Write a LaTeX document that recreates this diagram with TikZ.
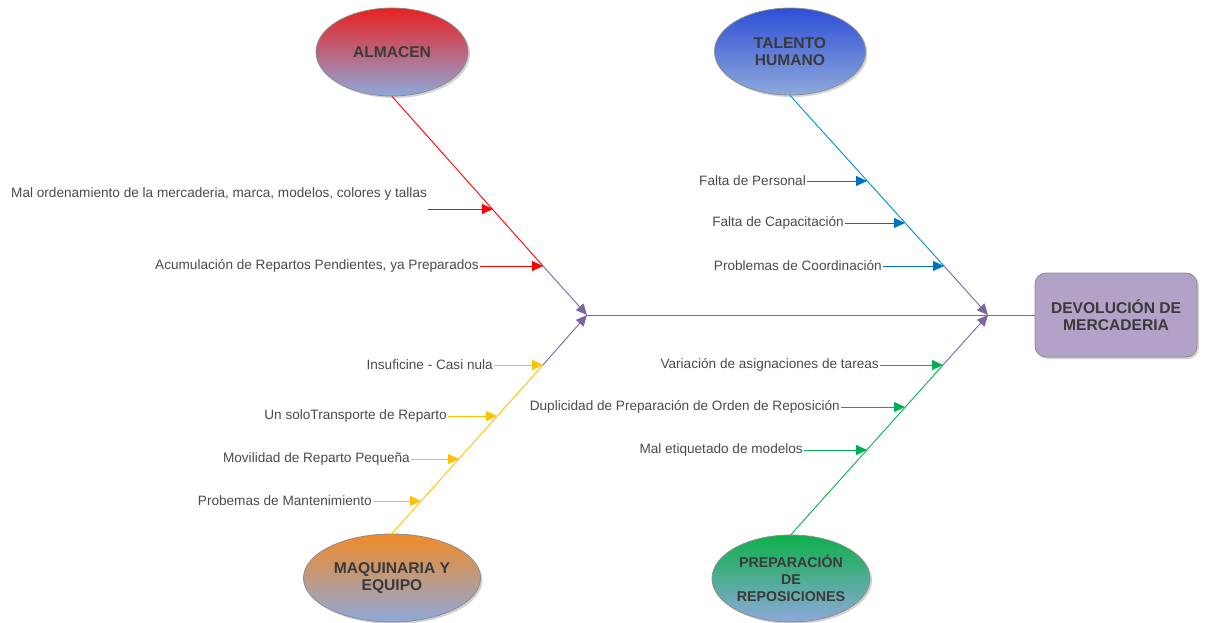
\documentclass[tikz,border=0pt]{standalone}
\usepackage{fontspec}
\setmainfont{Liberation Sans}
\usetikzlibrary{arrows.meta,shapes.geometric,shadows}
\definecolor{labeltxt}{HTML}{4A4A4A}
\definecolor{titletxt}{HTML}{3A3A3A}
\definecolor{causebot}{HTML}{8EA9DB}
\definecolor{almtop}{HTML}{E82020}
\definecolor{taltop}{HTML}{2E4FD6}
\definecolor{maqtop}{HTML}{F08A28}
\definecolor{preptop}{HTML}{0DB04B}
\definecolor{effectfill}{HTML}{B3A2C7}
\definecolor{bonered}{HTML}{FF0000}
\definecolor{boneblue}{HTML}{0070C0}
\definecolor{boneyellow}{HTML}{FFC000}
\definecolor{bonegreen}{HTML}{00B050}
\definecolor{bonepurple}{HTML}{8064A2}
\tikzset{
  cause/.style={ellipse, draw=black!45, line width=0.8pt,
    minimum width=152pt, minimum height=88pt, inner sep=0pt,
    bottom color=causebot, align=center, text=titletxt,
    font=\bfseries\fontsize{15.6}{17.5}\selectfont,
    drop shadow={opacity=0.35, shadow xshift=2pt, shadow yshift=-2pt}},
  effect/.style={rectangle, rounded corners=11pt, draw=black!45, line width=0.8pt,
    fill=effectfill, minimum width=162pt, minimum height=84pt, align=center,
    text=titletxt, font=\bfseries\fontsize{15.6}{17.5}\selectfont,
    drop shadow={opacity=0.35, shadow xshift=2pt, shadow yshift=-2pt}},
  lbl/.style={text=labeltxt, font=\fontsize{13.6}{15}\selectfont, inner sep=1pt},
  tip/.style={-{Triangle[length=11pt,width=10pt]}},
  bone/.style={line width=0.9pt},
  subcause/.style={line width=0.9pt, tip},
}
\begin{document}
\begin{tikzpicture}[x=1pt,y=-1pt]
\useasboundingbox (0,0) rectangle (1207,623);

% categories and effect
\node[cause, top color=almtop, bottom color=causebot] (alm) at (392,52) {ALMACEN};
\node[cause, top color=taltop, bottom color=causebot, minimum width=151pt, minimum height=87pt] (tal) at (790,51.5) {TALENTO\\HUMANO};
\node[cause, top color=maqtop, bottom color=causebot, minimum width=177pt] (maq) at (392,578) {MAQUINARIA Y\\EQUIPO};
\node[cause, top color=preptop, bottom color=causebot, minimum width=158pt, minimum height=87pt,
      inner xsep=-12pt, inner ysep=-8pt, font=\bfseries\fontsize{14.2}{17}\selectfont] (prep) at (791,578.5) {PREPARACI\'ON\\DE\\REPOSICIONES};
\node[effect] (eff) at (1116,315) {DEVOLUCI\'ON DE\\MERCADERIA};

% spine
\coordinate (jl) at (587,315);
\coordinate (jr) at (988,315);
\draw[bone, bonepurple] (jl) -- (eff.west);

% points on the bones
\coordinate (a1) at (493,209);
\coordinate (a2) at (543,266);
\coordinate (t1) at (867,181);
\coordinate (t2) at (905,223);
\coordinate (t3) at (944,266);
\coordinate (m1) at (543,365);
\coordinate (m2) at (497,416);
\coordinate (m3) at (459,459);
\coordinate (m4) at (421,501);
\coordinate (p1) at (943,365);
\coordinate (p2) at (905,407);
\coordinate (p3) at (867,450);

% bones
\draw[bone, bonered] (alm.south) -- (a2);
\draw[bone, bonepurple, tip] (a2) -- (jl);
\draw[bone, boneblue!80!cyan] (tal.south) -- (t3);
\draw[bone, bonepurple, tip] (t3) -- (jr);
\draw[bone, boneyellow] (maq.north) -- (m1);
\draw[bone, bonepurple, tip] (m1) -- (jl);
\draw[bone, bonegreen] (prep.north) -- (p1);
\draw[bone, bonepurple, tip] (p1) -- (jr);

% ALMACEN causes
\node[lbl, anchor=west] (la1) at (10,194) {Mal ordenamiento de la mercaderia, marca, modelos, colores y tallas};
\coordinate (sa1) at (428,209);
\draw[subcause, bonered] (sa1) -- (a1);
\node[lbl, anchor=east] (la2) at (480,266) {Acumulaci\'on de Repartos Pendientes, ya Preparados};
\draw[subcause, bonered] (la2.east) -- (a2);

% TALENTO HUMANO causes
\node[lbl, anchor=east] (lt1) at (807,181) {Falta de Personal};
\draw[subcause, boneblue] (lt1.east) -- (t1);
\node[lbl, anchor=east] (lt2) at (845,223) {Falta de Capacitaci\'on};
\draw[subcause, boneblue] (lt2.east) -- (t2);
\node[lbl, anchor=east] (lt3) at (883,266) {Problemas de Coordinaci\'on};
\draw[subcause, boneblue] (lt3.east) -- (t3);

% MAQUINARIA Y EQUIPO causes
\node[lbl, anchor=east] (lm1) at (494,365) {Insuficine - Casi nula};
\draw[subcause, boneyellow] (lm1.east) -- (m1);
\node[lbl, anchor=east] (lm2) at (448,416) {Un soloTransporte de Reparto};
\draw[subcause, boneyellow] (lm2.east) -- (m2);
\node[lbl, anchor=east] (lm3) at (411,459) {Movilidad de Reparto Peque\~na};
\draw[subcause, boneyellow] (lm3.east) -- (m3);
\node[lbl, anchor=east] (lm4) at (373,501) {Probemas de Mantenimiento};
\draw[subcause, boneyellow] (lm4.east) -- (m4);

% PREPARACION DE REPOSICIONES causes
\node[lbl, anchor=east] (lp1) at (880,365) {Variaci\'on de asignaciones de tareas};
\draw[subcause, bonegreen] (lp1.east) -- (p1);
\node[lbl, anchor=east] (lp2) at (841,407) {Duplicidad de Preparaci\'on de Orden de Reposici\'on};
\draw[subcause, bonegreen] (lp2.east) -- (p2);
\node[lbl, anchor=east] (lp3) at (804,450) {Mal etiquetado de modelos};
\draw[subcause, bonegreen] (lp3.east) -- (p3);
\end{tikzpicture}
\end{document}
